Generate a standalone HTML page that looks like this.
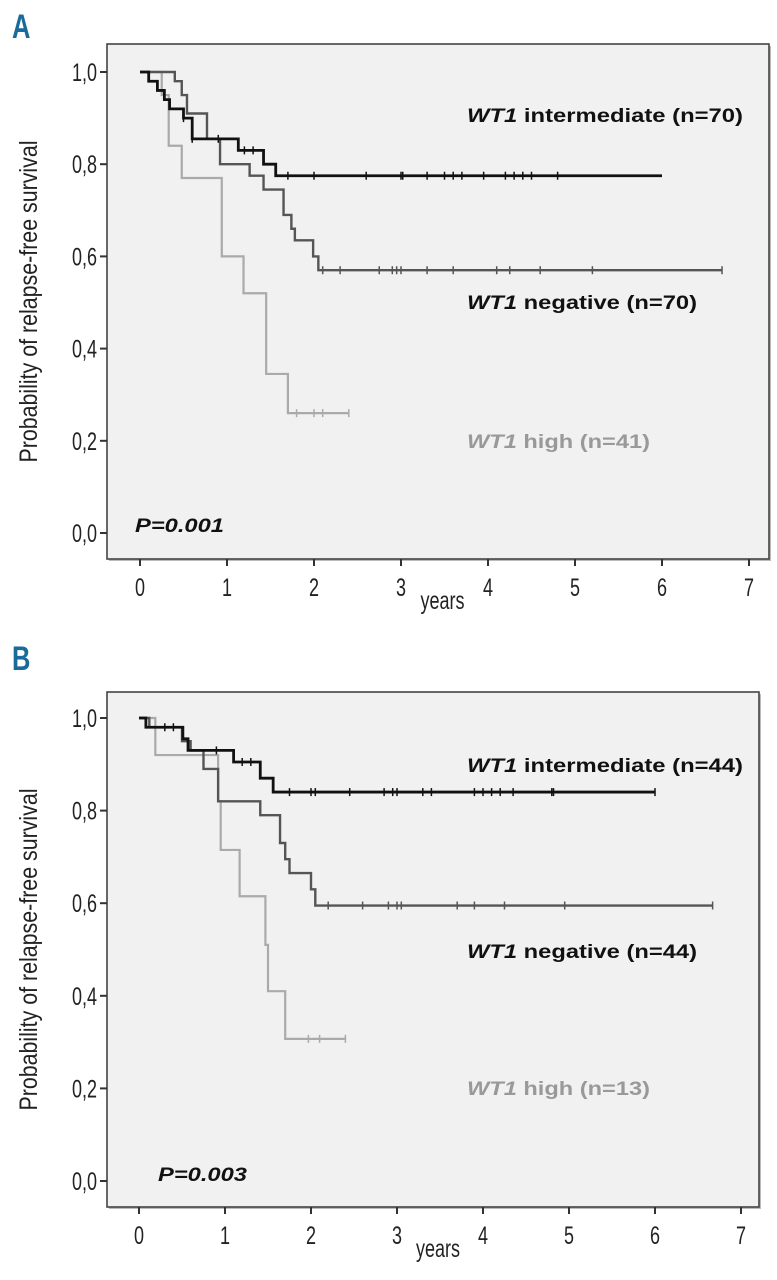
<!DOCTYPE html>
<html><head><meta charset="utf-8">
<style>
html,body{margin:0;padding:0;background:#fff;}
svg{display:block;}
text{font-family:"Liberation Sans Narrow","Liberation Sans",sans-serif;}
.lab{font-family:"Liberation Sans",sans-serif;font-weight:bold;font-size:19px;}
</style></head>
<body>
<svg id="chart" width="777" height="1280" viewBox="0 0 777 1280" xmlns="http://www.w3.org/2000/svg"></svg>
<script>
// ---- data (step points: [time, survival]) ----
const xTicks=[0,1,2,3,4,5,6,7];
const yTicks=[0,0.2,0.4,0.6,0.8,1.0];
const yTickLabels=["0,0","0,2","0,4","0,6","0,8","1,0"];
const A_intermediate=[[0,1],[0.1,0.98],[0.2,0.96],[0.28,0.94],[0.34,0.92],[0.5,0.9],[0.6,0.855],[1.13,0.83],[1.42,0.8],[1.56,0.775],[6.0,0.775]];
const A_negative=[[0,1],[0.4,0.98],[0.48,0.95],[0.54,0.91],[0.77,0.855],[0.92,0.8],[1.26,0.775],[1.42,0.745],[1.65,0.69],[1.74,0.66],[1.78,0.635],[1.99,0.6],[2.05,0.57],[6.69,0.57]];
const A_high=[[0,1],[0.25,0.95],[0.33,0.84],[0.48,0.77],[0.94,0.6],[1.19,0.52],[1.45,0.345],[1.7,0.26],[2.4,0.26]];
const A_censInt=[0.5,0.6,0.9,1.2,1.3,1.7,2.0,2.6,3.0,3.02,3.3,3.5,3.6,3.7,3.95,4.2,4.3,4.4,4.5,4.8];
const A_censNeg=[2.1,2.3,2.75,2.9,2.95,3.0,3.3,3.6,4.1,4.25,4.6,5.2,6.69];
const A_censHigh=[1.8,2.0,2.1,2.4];
const B_intermediate=[[0,1],[0.08,0.98],[0.51,0.955],[0.57,0.93],[1.1,0.905],[1.41,0.87],[1.56,0.84],[6.0,0.84]];
const B_negative=[[0,1],[0.12,0.98],[0.5,0.95],[0.6,0.93],[0.75,0.89],[0.92,0.82],[1.41,0.79],[1.64,0.73],[1.7,0.695],[1.75,0.665],[2.0,0.63],[2.05,0.595],[6.67,0.595]];
const B_high=[[0,1],[0.19,0.92],[0.92,0.82],[0.95,0.715],[1.17,0.615],[1.47,0.51],[1.5,0.41],[1.7,0.307],[2.4,0.307]];
const B_censInt=[0.3,0.4,0.9,1.2,1.3,1.75,2.0,2.05,2.45,2.85,2.95,3.0,3.3,3.4,3.9,4.0,4.1,4.2,4.35,4.8,4.82,6.0];
const B_censNeg=[2.2,2.6,2.9,3.0,3.05,3.7,3.9,4.25,4.95,6.67];
const B_censHigh=[1.97,2.1,2.4];

const NS="http://www.w3.org/2000/svg";
const svg=document.getElementById('chart');
function mk(tag,attrs,parent,txt){const e=document.createElementNS(NS,tag);for(const k in attrs)e.setAttribute(k,attrs[k]);if(txt!==undefined)e.textContent=txt;(parent||svg).appendChild(e);return e;}
function narrow(parent,x,y,size,anchor,str,sx){
  const w=mk('g',{transform:`translate(${x},${y}) scale(${sx||0.72},1)`},parent);
  return mk('text',{x:0,y:0,'font-size':size,'text-anchor':anchor,fill:'#222'},w,str);
}

function panel(cfg){
  const g=mk('g',{});
  
  
  const X=t=>cfg.x0+cfg.dx*t;
  const Y=v=>cfg.y0-(cfg.y0-cfg.y1)*v;
  const letter=narrow(g,12,cfg.letterY,34,'start',cfg.letter,0.75);
  letter.setAttribute('font-weight','bold');
  letter.setAttribute('fill','#1a6b9a');
  
  
  mk('rect',{x:cfg.left+2,y:cfg.top+2,width:cfg.right-cfg.left,height:cfg.bottom-cfg.top,fill:'#bbb'},g);
  const box=mk('rect',{x:cfg.left,y:cfg.top,width:cfg.right-cfg.left,height:cfg.bottom-cfg.top,fill:'#f1f1f1',stroke:'#444','stroke-width':1.6},g);
  
  
  yTicks.forEach((v,i)=>{
    mk('line',{x1:cfg.left-7,x2:cfg.left,y1:Y(v),y2:Y(v),stroke:'#333','stroke-width':2},g);
    const t=narrow(g,cfg.left-10,Y(v)+9,25,'end',yTickLabels[i]);
    
    
  });
  xTicks.forEach(v=>{
    mk('line',{x1:X(v),x2:X(v),y1:cfg.bottom,y2:cfg.bottom+7,stroke:'#333','stroke-width':2},g);
    const t=narrow(g,X(v),cfg.bottom+37,25,'middle',String(v));
    
    
  });
  const xt=narrow(g,X(3.5)-2,cfg.bottom+50,25,'middle','years');
  
  
  const cy=(cfg.top+cfg.bottom)/2;
  const yt=mk('text',{x:0,y:0,'font-size':25,'text-anchor':'middle',fill:'#222',textLength:322,lengthAdjust:'spacingAndGlyphs',transform:`translate(37,${cy}) rotate(-90)`},g,'Probability of relapse-free survival');
  
  
  function series(pts,cens,color,w,name){
    let d=`M${X(pts[0][0])},${Y(pts[0][1])}`;
    for(let i=1;i<pts.length;i++){d+=` H${X(pts[i][0])} V${Y(pts[i][1])}`;}
    const p=mk('path',{d:d,fill:'none',stroke:color,'stroke-width':w},g);
    
    
    cens.forEach(t=>{
      let v=pts[0][1];for(const q of pts){if(q[0]<=t)v=q[1];}
      const c=mk('line',{x1:X(t),x2:X(t),y1:Y(v)-4,y2:Y(v)+4,stroke:color,'stroke-width':1.5},g);
      
      
    });
  }
  series(cfg.high,cfg.cH,'#aaaaaa',2.2,'curve-wt1-high');
  series(cfg.neg,cfg.cN,'#555555',2.4,'curve-wt1-negative');
  series(cfg.inter,cfg.cI,'#111111',2.8,'curve-wt1-intermediate');
  function lab(x,y,rest,color,len,name){
    const t=mk('text',{x:x,y:y,class:'lab',fill:color,textLength:len,lengthAdjust:'spacingAndGlyphs'},g);
    mk('tspan',{'font-style':'italic'},t,'WT1');
    mk('tspan',{},t,' '+rest);
    
    
  }
  lab(467,cfg.labY[0],cfg.labT[0],'#111',276,'legend-intermediate');
  lab(467,cfg.labY[1],cfg.labT[1],'#111',230,'legend-negative');
  lab(467,cfg.labY[2],cfg.labT[2],'#999',183,'legend-high');
  const p=mk('text',{x:cfg.pX,y:cfg.pY,'font-size':19,'font-weight':'bold','font-style':'italic',fill:'#111',textLength:89,lengthAdjust:'spacingAndGlyphs',style:'font-family:"Liberation Sans",sans-serif'},g,cfg.pText);
  
  
}
panel({name:'panel-a',letter:'A',letterY:38,left:107,right:769,top:44,bottom:559,x0:140,dx:87,y0:533,y1:72,
  inter:A_intermediate,neg:A_negative,high:A_high,cI:A_censInt,cN:A_censNeg,cH:A_censHigh,
  labY:[122,309,448],labT:['intermediate (n=70)','negative (n=70)','high (n=41)'],pX:135,pY:532,pText:'P=0.001'});
panel({name:'panel-b',letter:'B',letterY:670,left:107,right:759,top:692,bottom:1207,x0:139,dx:86,y0:1181,y1:718,
  inter:B_intermediate,neg:B_negative,high:B_high,cI:B_censInt,cN:B_censNeg,cH:B_censHigh,
  labY:[772,958,1095],labT:['intermediate (n=44)','negative (n=44)','high (n=13)'],pX:158,pY:1181,pText:'P=0.003'});
</script>
</body></html>
